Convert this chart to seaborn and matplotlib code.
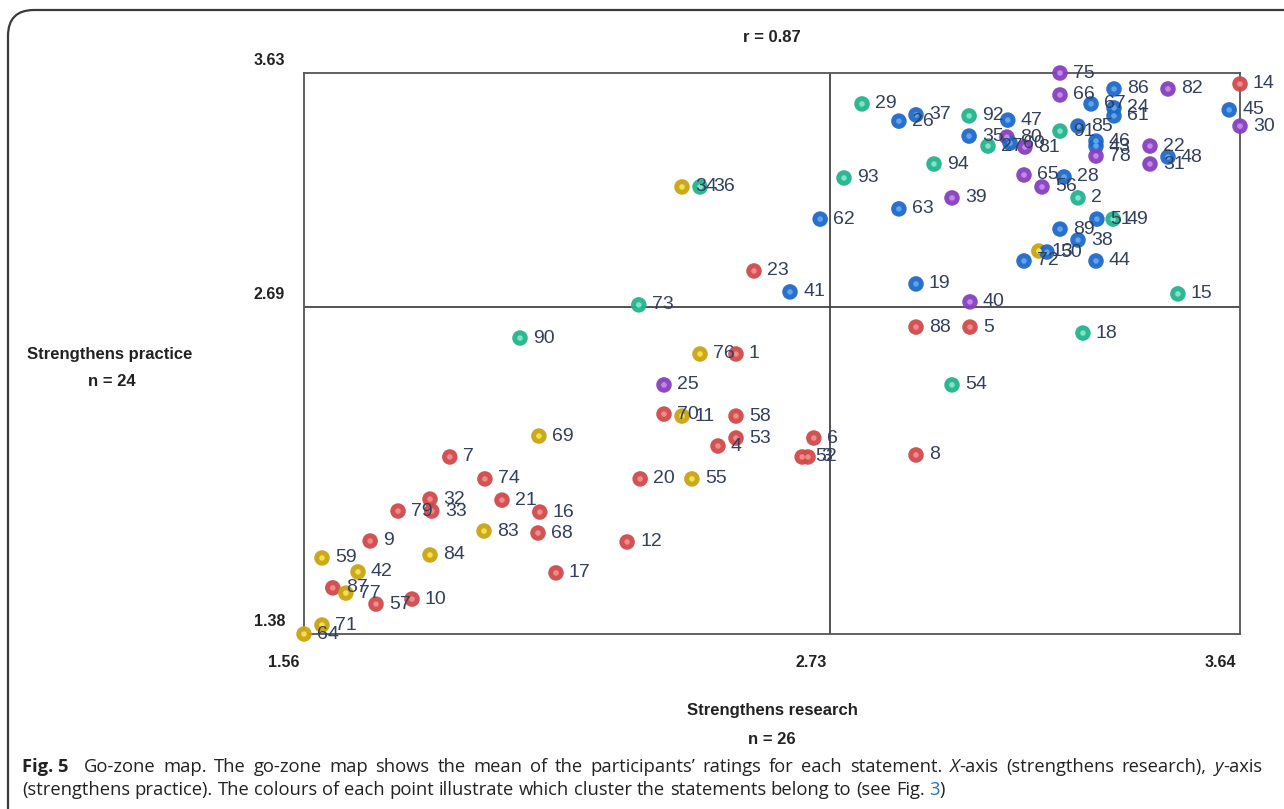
import matplotlib
matplotlib.use("Agg")
import matplotlib.pyplot as plt
import seaborn as sns
import pandas as pd
from matplotlib.patches import FancyBboxPatch
from matplotlib.transforms import IdentityTransform

# ---- data ----
labels = [75, 66, 86, 82, 14, 67, 24, 61, 45, 30,
          29, 26, 37, 92, 47, 35, 80, 27, 60, 81,
          91, 85, 46, 43, 78, 22, 31, 48, 65, 28,
          56, 2, 51, 49, 89, 38, 13, 50, 72, 44,
          15, 93, 94, 62, 63, 39, 19, 40, 34, 36,
          23, 41, 73, 90, 88, 5, 18, 54, 8, 76,
          1, 25, 70, 11, 58, 53, 4, 6, 52, 3,
          20, 55, 69, 7, 74, 32, 33, 79, 21, 16,
          83, 68, 12, 9, 84, 59, 42, 87, 77, 57,
          10, 17, 71, 64]
research = [3.240, 3.240, 3.360, 3.480, 3.640, 3.309, 3.360, 3.360, 3.616, 3.640,
            2.800, 2.882, 2.920, 3.038, 3.124, 3.038, 3.122, 3.080, 3.129, 3.162,
            3.240, 3.280, 3.320, 3.320, 3.320, 3.440, 3.440, 3.480, 3.160, 3.249,
            3.200, 3.280, 3.322, 3.358, 3.240, 3.280, 3.193, 3.211, 3.160, 3.320,
            3.502, 2.760, 2.960, 2.707, 2.882, 3.000, 2.920, 3.040, 2.400, 2.440,
            2.560, 2.640, 2.304, 2.040, 2.920, 3.040, 3.291, 3.000, 2.920, 2.440,
            2.520, 2.360, 2.360, 2.400, 2.520, 2.520, 2.480, 2.693, 2.667, 2.680,
            2.307, 2.422, 2.082, 1.884, 1.962, 1.840, 1.844, 1.769, 2.000, 2.084,
            1.960, 2.080, 2.278, 1.707, 1.840, 1.600, 1.680, 1.624, 1.653, 1.720,
            1.800, 2.120, 1.600, 1.560]
practice = [3.630, 3.542, 3.566, 3.566, 3.586, 3.506, 3.490, 3.458, 3.482, 3.417,
            3.506, 3.437, 3.462, 3.458, 3.441, 3.377, 3.373, 3.337, 3.349, 3.333,
            3.397, 3.417, 3.357, 3.337, 3.297, 3.337, 3.265, 3.293, 3.221, 3.213,
            3.173, 3.129, 3.044, 3.044, 3.004, 2.960, 2.916, 2.912, 2.876, 2.876,
            2.744, 3.209, 3.265, 3.044, 3.085, 3.129, 2.784, 2.712, 3.173, 3.173,
            2.836, 2.752, 2.700, 2.567, 2.611, 2.611, 2.587, 2.379, 2.098, 2.503,
            2.503, 2.379, 2.262, 2.254, 2.254, 2.166, 2.134, 2.166, 2.090, 2.090,
            2.002, 2.002, 2.174, 2.090, 2.002, 1.921, 1.873, 1.873, 1.917, 1.869,
            1.793, 1.785, 1.749, 1.753, 1.697, 1.685, 1.629, 1.565, 1.544, 1.500,
            1.520, 1.625, 1.416, 1.380]
cluster = ["P", "P", "B", "P", "R", "B", "B", "B", "B", "P",
           "T", "B", "B", "T", "B", "B", "P", "T", "B", "P",
           "T", "B", "B", "B", "P", "P", "P", "B", "P", "B",
           "P", "T", "B", "T", "B", "B", "G", "B", "B", "B",
           "T", "T", "T", "B", "B", "P", "B", "P", "G", "T",
           "R", "B", "T", "T", "R", "R", "T", "T", "R", "G",
           "R", "P", "R", "G", "R", "R", "R", "R", "R", "R",
           "R", "G", "G", "R", "R", "R", "R", "R", "R", "R",
           "G", "R", "R", "R", "G", "G", "G", "R", "G", "R",
           "R", "R", "G", "G"]
x_ticks = [1.56, 2.73, 3.64]
y_ticks = [3.63, 2.69, 1.38]

outer = {"R": "#cf4a4a", "G": "#c9a412", "T": "#22b38c", "B": "#1f68c8", "P": "#8640be"}
inner = {"R": "#f28a8a", "G": "#f6e04a", "T": "#7fe3c4", "B": "#5aa6f0", "P": "#c685ee"}

df = pd.DataFrame({"label": labels, "research": research,
                   "practice": practice, "cluster": cluster})

sns.set_theme(style="white")
plt.rcParams["font.family"] = ["Liberation Sans", "DejaVu Sans"]

W, H = 1284, 809
fig = plt.figure(figsize=(W / 100, H / 100), dpi=100)
ax = fig.add_axes([304 / W, 1 - 634 / H, 936 / W, 561 / H])

# outer rounded border
fig.patches.append(FancyBboxPatch((8, -30), 1320, 799 + 30, boxstyle="round,pad=0,rounding_size=26",
                                  transform=IdentityTransform(), fill=False,
                                  edgecolor="#3a3a3a", linewidth=1.6, figure=fig))

sns.scatterplot(data=df, x="research", y="practice", hue="cluster", palette=outer,
                s=125, linewidth=0, alpha=0.95, legend=False, ax=ax, zorder=3)
sns.scatterplot(data=df, x="research", y="practice", hue="cluster", palette=inner,
                s=16, linewidth=0, legend=False, ax=ax, zorder=4)
for coll in ax.collections:
    coll.set_clip_on(False)

for lab, xv, yv in zip(df["label"], df["research"], df["practice"]):
    ax.annotate(str(lab), (xv, yv), xytext=(13, 0), textcoords="offset pixels",
                ha="left", va="center", fontsize=14, color="#33405c",
                zorder=5, annotation_clip=False)

ax.set_xlim(x_ticks[0], x_ticks[-1])
ax.set_ylim(y_ticks[-1], y_ticks[0])
ax.axvline(x_ticks[1], color="#444444", linewidth=1.3, zorder=1)
ax.axhline(y_ticks[1], color="#444444", linewidth=1.3, zorder=1)
ax.set_xticks([])
ax.set_yticks([])
ax.set_xlabel("")
ax.set_ylabel("")
for sp in ax.spines.values():
    sp.set_visible(True)
    sp.set_color("#555555")
    sp.set_linewidth(1.3)

for xv in x_ticks:
    ax.annotate(f"{xv:.2f}", (xv, y_ticks[-1]), xytext=(-4, -28), textcoords="offset pixels",
                ha="right", va="center", fontsize=11.5, fontweight="bold", color="#222222",
                annotation_clip=False)
for yv in y_ticks:
    ax.annotate(f"{yv:.2f}", (x_ticks[0], yv), xytext=(-19, 13), textcoords="offset pixels",
                ha="right", va="center", fontsize=11.5, fontweight="bold", color="#222222",
                annotation_clip=False)

def ftext(px, py, s, **kw):
    fig.text(px / W, 1 - py / H, s, **kw)

ftext(772, 37, "r = 0.87", ha="center", va="center", fontsize=12, fontweight="bold", color="#222222")
ftext(110, 355, "Strengthens practice", ha="center", va="center", fontsize=12, fontweight="bold", color="#222222")
ftext(112, 382, "n = 24", ha="center", va="center", fontsize=12, fontweight="bold", color="#222222")
ftext(772, 711, "Strengthens research", ha="center", va="center", fontsize=12, fontweight="bold", color="#222222")
ftext(772, 739, "n = 26", ha="center", va="center", fontsize=12, fontweight="bold", color="#222222")

# caption with mixed styles (first line justified)
renderer = fig.canvas.get_renderer()
cap_font = ["Open Sans", "DejaVu Sans"]
CAP_SIZE = 13.2


def style_kw(style):
    kw = dict(fontsize=CAP_SIZE, family=cap_font, color="#222222", va="center", ha="left")
    if style == "bold":
        kw["fontweight"] = "bold"
    elif style == "italic":
        kw["style"] = "italic"
    elif style == "link":
        kw["color"] = "#2a6ebb"
    return kw


def measure(s, style):
    t = fig.text(0, 0, s, **style_kw(style))
    w = t.get_window_extent(renderer=renderer).width
    t.remove()
    return w


space_w = measure("a a", None) - measure("aa", None)


def seg_line(px, py, tokens, target=None):
    # tokens: list of (text, style, space_after)
    widths = [measure(s, st) for s, st, _ in tokens]
    nspace = sum(1 for _, _, sp in tokens if sp)
    natural = sum(widths) + nspace * space_w
    gap = space_w
    if target is not None and nspace:
        gap = space_w + (target - natural) / nspace
    x = px
    for (s, st, sp), w in zip(tokens, widths):
        fig.text(x / W, 1 - py / H, s, **style_kw(st))
        x += w + (gap if sp else 0)


def words(s, style, trailing):
    parts = s.split(" ")
    toks = [(p, style, True) for p in parts[:-1]]
    toks.append((parts[-1], style, trailing))
    return toks

line1 = ([("Fig. 5", "bold", True), ("", None, True)]
         + words("Go-zone map. The go-zone map shows the mean of the participants\u2019 ratings for each statement.", None, True)
         + [("X", "italic", False)]
         + words("-axis (strengthens research),", None, True)
         + [("y", "italic", False), ("-axis", None, False)])
line2 = (words("(strengthens practice). The colours of each point illustrate which cluster the statements belong to (see Fig.", None, True)
         + [("3", "link", False), (")", None, False)])

seg_line(22, 767, line1, target=1262 - 22)
seg_line(22, 790, line2)

fig.savefig("out.png", dpi=100)
